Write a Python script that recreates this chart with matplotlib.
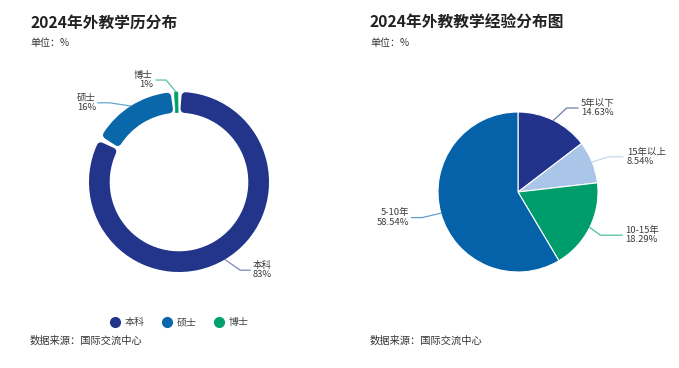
import numpy as np
import matplotlib
matplotlib.use('Agg')
import matplotlib.pyplot as plt
from matplotlib.lines import Line2D

plt.rcParams['font.family'] = ['Noto Sans CJK SC', 'DejaVu Sans']

# Data
edu_labels = ['本科', '硕士', '博士']
edu_values = [83, 16, 1]
edu_colors = ['#22358a', '#0a67a9', '#00a06e']

exp_labels = ['5年以下', '15年以上', '10-15年', '5-10年']
exp_values = [14.63, 8.54, 18.29, 58.54]
exp_colors = ['#21338a', '#a9c5e7', '#009d6c', '#0562a8']

W, H = 679, 368
fig = plt.figure(figsize=(W / 100, H / 100), dpi=100)


def px_axes(x0, y0, x1, y1):
    return fig.add_axes([x0 / W, 1 - y1 / H, (x1 - x0) / W, (y1 - y0) / H])


def leader(ax, point, elbow, end, text, ha, color, tx):
    xs = [point[0], elbow[0], end[0]]
    ys = [point[1], elbow[1], end[1]]
    ax.plot(xs, ys, color=color, lw=0.9, clip_on=False, alpha=0.8)
    ax.text(tx, end[1], text, ha=ha, va='center', fontsize=6.8,
            color='#3a3a3a', linespacing=1.05, multialignment=ha)


# ---------- left: donut ----------
ax1 = px_axes(89, 92, 269, 272)
ring = 0.23
wedges, _ = ax1.pie(edu_values, colors=edu_colors, startangle=90, counterclock=False,
                    radius=1, wedgeprops=dict(width=ring, linewidth=0))
unit = 90.0  # px per data unit
r_mid = (1 - ring / 2) * unit
for w in wedges:
    span = np.radians(w.theta2 - w.theta1) * r_mid
    if span > 20:
        rr, half_gap = 4.0, 2.0
    else:
        # very thin slice: keep it as a narrow bar
        rr, half_gap = 0.0, 1.0
    shrink = np.degrees((half_gap + rr) / r_mid)
    w.set_theta1(w.theta1 + shrink)
    w.set_theta2(w.theta2 - shrink)
    w.set_radius(1 - rr / unit)
    w.set_width(ring - 2 * rr / unit)
    w.set_edgecolor(w.get_facecolor())
    w.set_linewidth(max(2 * rr, 0.6) * 0.72)
    w.set_joinstyle('round')
ax1.set_xlim(-1, 1)
ax1.set_ylim(-1, 1)

# leader lines (left)
mids = [np.radians((w.theta1 + w.theta2) / 2) for w in wedges]
pt = lambda a, r=1.0: (r * np.cos(a), r * np.sin(a))
leader(ax1, pt(mids[0]), (0.68, -0.98), (0.79, -0.98), '本科\n83%', 'left', '#5a6aa0', 0.82)
leader(ax1, pt(mids[1]), (-0.77, 0.88), (-0.9, 0.88), '硕士\n16%', 'right', '#3f8fc4', -0.92)
leader(ax1, pt(mids[2]), (-0.144, 1.133), (-0.256, 1.133), '博士\n1%', 'right', '#2db489', -0.29)

# ---------- right: pie ----------
ax2 = px_axes(438, 112, 598, 272)
wedges2, _ = ax2.pie(exp_values, colors=exp_colors, startangle=90, counterclock=False,
                     radius=1, wedgeprops=dict(edgecolor='white', linewidth=0.8))
ax2.set_xlim(-1, 1)
ax2.set_ylim(-1, 1)
mids2 = [np.radians((w.theta1 + w.theta2) / 2) for w in wedges2]
leader(ax2, pt(mids2[0]), (0.61, 1.05), (0.75, 1.05), '5年以下\n14.63%', 'left', '#4b5b98', 0.79)
leader(ax2, pt(mids2[1]), (1.13, 0.44), (1.31, 0.44), '15年以上\n8.54%', 'left', '#b7cfea', 1.36)
leader(ax2, pt(mids2[2]), (1.03, -0.54), (1.3, -0.54), '10-15年\n18.29%', 'left', '#27ad80', 1.34)
leader(ax2, pt(mids2[3]), (-1.2, -0.32), (-1.33, -0.32), '5-10年\n58.54%', 'right', '#3c86bf', -1.36)

# ---------- titles and notes ----------
for x, title in [(30, '2024年外教学历分布'), (370, '2024年外教教学经验分布图')]:
    fig.text(x / W, 1 - 23 / H, title, fontsize=11.3, fontweight='bold',
             color='#222222', ha='left', va='center')
    fig.text(x / W, 1 - 43 / H, '单位：%', fontsize=7.2, color='#333333',
             ha='left', va='center')
    fig.text(x / W, 1 - 341 / H, '数据来源：国际交流中心', fontsize=7.4,
             color='#333333', ha='left', va='center')

# legend for the donut
handles = [Line2D([0], [0], marker='o', linestyle='', markersize=7,
                  markerfacecolor=c, markeredgecolor=c) for c in edu_colors]
fig.legend(handles, edu_labels, loc='center', bbox_to_anchor=(180 / W, 1 - 322 / H),
           ncol=3, frameon=False, fontsize=7.2, handlelength=0.8,
           handletextpad=0.6, columnspacing=1.8, labelcolor='#444444')

fig.savefig('out.png', dpi=100, facecolor='white')
